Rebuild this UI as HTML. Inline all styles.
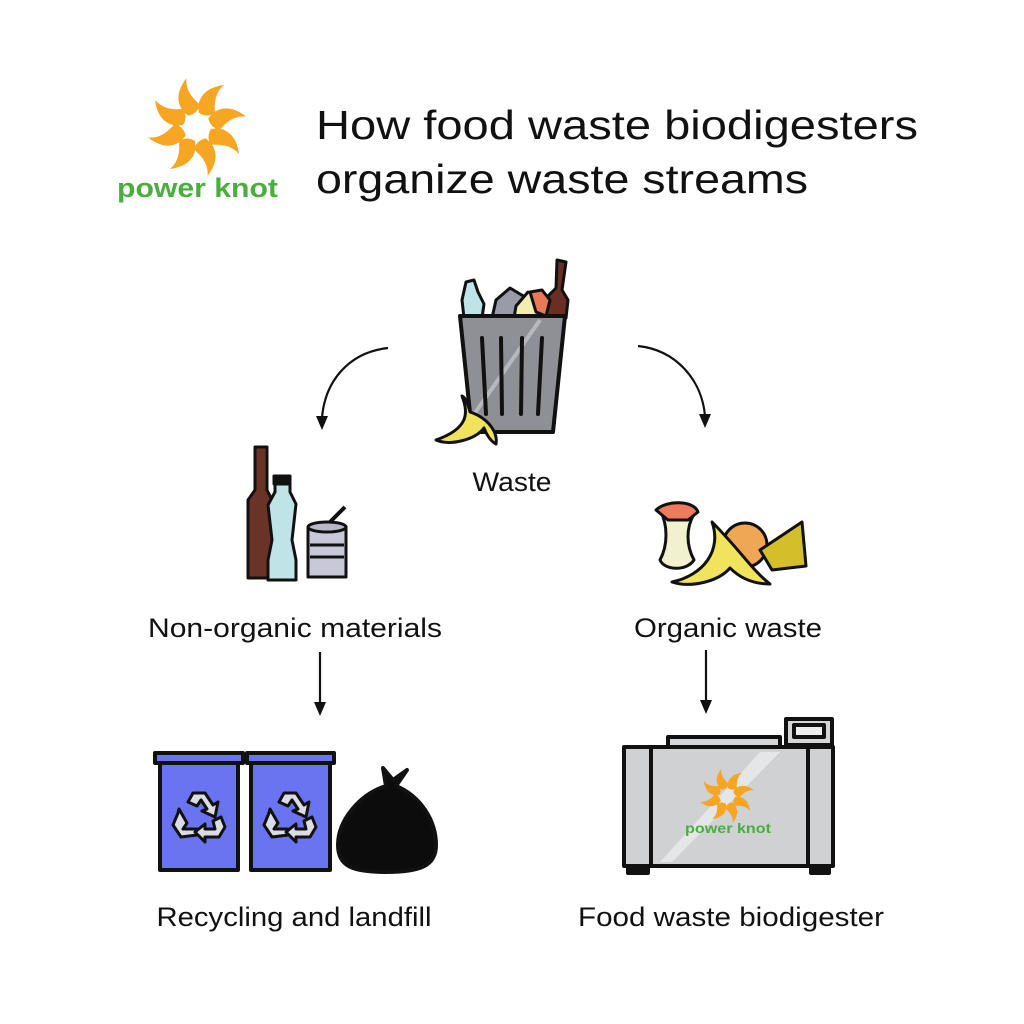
<!DOCTYPE html>
<html><head><meta charset="utf-8"><style>
html,body{margin:0;padding:0;background:#fff;}
svg{display:block;}
text{font-family:"Liberation Sans",sans-serif;}
</style></head><body>
<svg width="1024" height="1024" viewBox="0 0 1024 1024" xmlns="http://www.w3.org/2000/svg">
<defs>
 <g id="swirl">
  <g id="blade"><path d="M2,-14 C-1,-30 10,-40 27,-42 C19,-35 17,-26 18,-14 Q10,-9 2,-14 Z" fill="#F6A623"/></g>
  <use href="#blade" transform="rotate(45)"/>
  <use href="#blade" transform="rotate(90)"/>
  <use href="#blade" transform="rotate(135)"/>
  <use href="#blade" transform="rotate(180)"/>
  <use href="#blade" transform="rotate(225)"/>
  <use href="#blade" transform="rotate(270)"/>
  <use href="#blade" transform="rotate(315)"/>
 </g>
 <g id="recyc" fill="#dcdce4" stroke="#111" stroke-width="3" stroke-linejoin="round">
  <path d="M-6,-22 L6,-22 L14,-10 L19,-13 L16,2 L3,-4 L8,-6 L2,-15 L-2,-9 L-11,-13 Z"/>
  <path d="M-20,-6 L-12,8 L-16,14 L-2,14 L-2,20 L-18,22 L-26,10 L-21,-2 Z"/>
  <path d="M22,2 L26,12 L20,22 L6,22 L6,27 L-4,17 L6,9 L6,14 L16,14 L14,6 Z"/>
 </g>
</defs>

<!-- logo -->
<use href="#swirl" transform="translate(197,127)"/>
<text x="117" y="197" font-size="27" font-weight="bold" fill="#4AAE3F" textLength="161" lengthAdjust="spacingAndGlyphs">power knot</text>

<!-- title -->
<text x="316" y="139" font-size="41" fill="#111" textLength="602" lengthAdjust="spacingAndGlyphs">How food waste biodigesters</text>
<text x="316" y="193" font-size="41" fill="#111" textLength="492" lengthAdjust="spacingAndGlyphs">organize waste streams</text>

<!-- arrows -->
<g stroke="#111" stroke-width="2.2" fill="none">
 <path d="M388,348 C350,352 325,380 322,418"/>
 <path d="M638,346 C676,350 702,380 705,416"/>
 <path d="M320,652 L320,704"/>
 <path d="M706,650 L706,702"/>
</g>
<g fill="#111">
 <path d="M316,416 L328,416 L322,430 Z"/>
 <path d="M699,414 L711,414 L705,428 Z"/>
 <path d="M314,702 L326,702 L320,716 Z"/>
 <path d="M700,700 L712,700 L706,714 Z"/>
</g>

<!-- trash can items -->
<g stroke="#111" stroke-width="3" stroke-linejoin="round">
 <path d="M557,260 L566,262 L562,290 L568,300 L566,318 L546,318 L548,296 L556,288 Z" fill="#6B2E22"/>
 <path d="M466,282 L474,280 L478,292 L484,304 L482,318 L464,318 L462,300 Z" fill="#BFE3E6"/>
 <path d="M496,300 L510,288 L530,300 L520,318 L492,318 Z" fill="#9a9aa8"/>
 <path d="M516,306 L528,292 L546,298 L544,318 L514,318 Z" fill="#F3EDB0"/>
 <path d="M530,292 L542,290 L550,300 L546,316 L536,312 Z" fill="#E87A5A"/>
</g>
<path d="M460,316 L565,316 L553,432 L472,432 Z" fill="#8f8f96" stroke="#111" stroke-width="4" stroke-linejoin="round"/>
<path d="M540,320 L470,420" stroke="#b8b8c0" stroke-width="4"/>
<g stroke="#111" stroke-width="4" stroke-linecap="round">
 <path d="M482,338 L486,414"/><path d="M501,338 L502,414"/><path d="M522,338 L521,414"/><path d="M542,338 L538,414"/>
</g>
<path d="M462,396 C468,412 470,428 436,440 C450,446 475,440 484,428 C488,438 492,442 496,444 C498,432 488,418 470,412 C468,404 466,398 462,396 Z" fill="#F1E35B" stroke="#111" stroke-width="3" stroke-linejoin="round"/>

<text x="512" y="491" font-size="27" fill="#111" text-anchor="middle" textLength="79" lengthAdjust="spacingAndGlyphs">Waste</text>

<!-- non-organic -->
<g stroke="#111" stroke-width="3" stroke-linejoin="round">
 <path d="M255,447 L267,447 L267,490 L272,500 L272,578 L248,578 L248,500 L255,490 Z" fill="#6A3327"/>
 <path d="M275,480 L290,480 L290,492 L296,504 L292,540 L296,560 L296,580 L268,580 L268,560 L272,540 L268,505 L275,492 Z" fill="#BFE3E6"/>
 <rect x="274" y="476" width="16" height="8" fill="#111"/>
 <path d="M308,527 L346,527 L346,577 L308,577 Z" fill="#c8c8d8"/>
 <ellipse cx="327" cy="527" rx="19" ry="5" fill="#b8b8c8"/>
 <path d="M330,522 L345,507" stroke-width="4"/>
</g>
<g stroke="#111" stroke-width="3"><path d="M310,545 L344,545 M310,557 L344,557"/></g>

<!-- organic -->
<g stroke="#111" stroke-width="3" stroke-linejoin="round">
 <path d="M660,510 C672,504 688,504 694,514 C686,528 686,545 694,560 C686,572 664,570 660,560 C668,545 668,525 660,510 Z" fill="#F1F0CF"/>
 <path d="M656,510 C666,500 694,500 698,512 L688,520 L668,520 Z" fill="#EE7B5E"/>
 <circle cx="745" cy="545" r="22" fill="#EFA756"/>
 <path d="M760,550 L802,522 L806,566 L772,570 Z" fill="#D4BE2A"/>
 <path d="M712,522 C722,550 704,575 672,582 C690,588 718,582 730,568 C742,580 756,584 770,584 C752,570 740,550 712,522 Z" fill="#F1E35B"/>
</g>

<text x="295" y="637" font-size="27" fill="#111" text-anchor="middle" textLength="294" lengthAdjust="spacingAndGlyphs">Non-organic materials</text>
<text x="728" y="637" font-size="27" fill="#111" text-anchor="middle" textLength="188" lengthAdjust="spacingAndGlyphs">Organic waste</text>

<!-- bins -->
<g stroke="#111" stroke-width="4" stroke-linejoin="round">
 <rect x="155" y="753" width="88" height="10" fill="#6A73F0"/>
 <rect x="160" y="763" width="78" height="107" fill="#6A73F0"/>
 <rect x="247" y="753" width="87" height="10" fill="#6A73F0"/>
 <rect x="251" y="763" width="79" height="107" fill="#6A73F0"/>
 <path d="M383,768 L393,780 L407,770 L396,786 C420,796 436,820 436,845 C436,866 420,872 386,872 C352,872 338,866 338,845 C338,820 360,794 386,786 Z" fill="#0c0c0c"/>
</g>
<use href="#recyc" transform="translate(199,815)"/>
<use href="#recyc" transform="translate(290,815)"/>

<!-- biodigester -->
<g stroke="#111" stroke-width="4" stroke-linejoin="round">
 <rect x="668" y="737" width="112" height="10" fill="#d4d6d8"/>
 <rect x="786" y="719" width="46" height="26" fill="#d4d6d8"/>
 <rect x="794" y="725" width="30" height="12" fill="#eee"/>
 <rect x="624" y="747" width="209" height="119" fill="#CFD1D3"/>
 <path d="M651,747 L651,866 M808,747 L808,866"/>
 <rect x="628" y="866" width="20" height="7" fill="#111"/>
 <rect x="811" y="866" width="18" height="7" fill="#111"/>
</g>
<path d="M660,862 L760,752 L780,752 L672,862 Z" fill="#e4e6e8"/>
<use href="#swirl" transform="translate(727,796) scale(0.55)"/>
<text x="685" y="833" font-size="14" font-weight="bold" fill="#4AAE3F" textLength="86" lengthAdjust="spacingAndGlyphs">power knot</text>

<text x="294" y="926" font-size="27" fill="#111" text-anchor="middle" textLength="275" lengthAdjust="spacingAndGlyphs">Recycling and landfill</text>
<text x="731" y="926" font-size="27" fill="#111" text-anchor="middle" textLength="306" lengthAdjust="spacingAndGlyphs">Food waste biodigester</text>
</svg>
</body></html>
